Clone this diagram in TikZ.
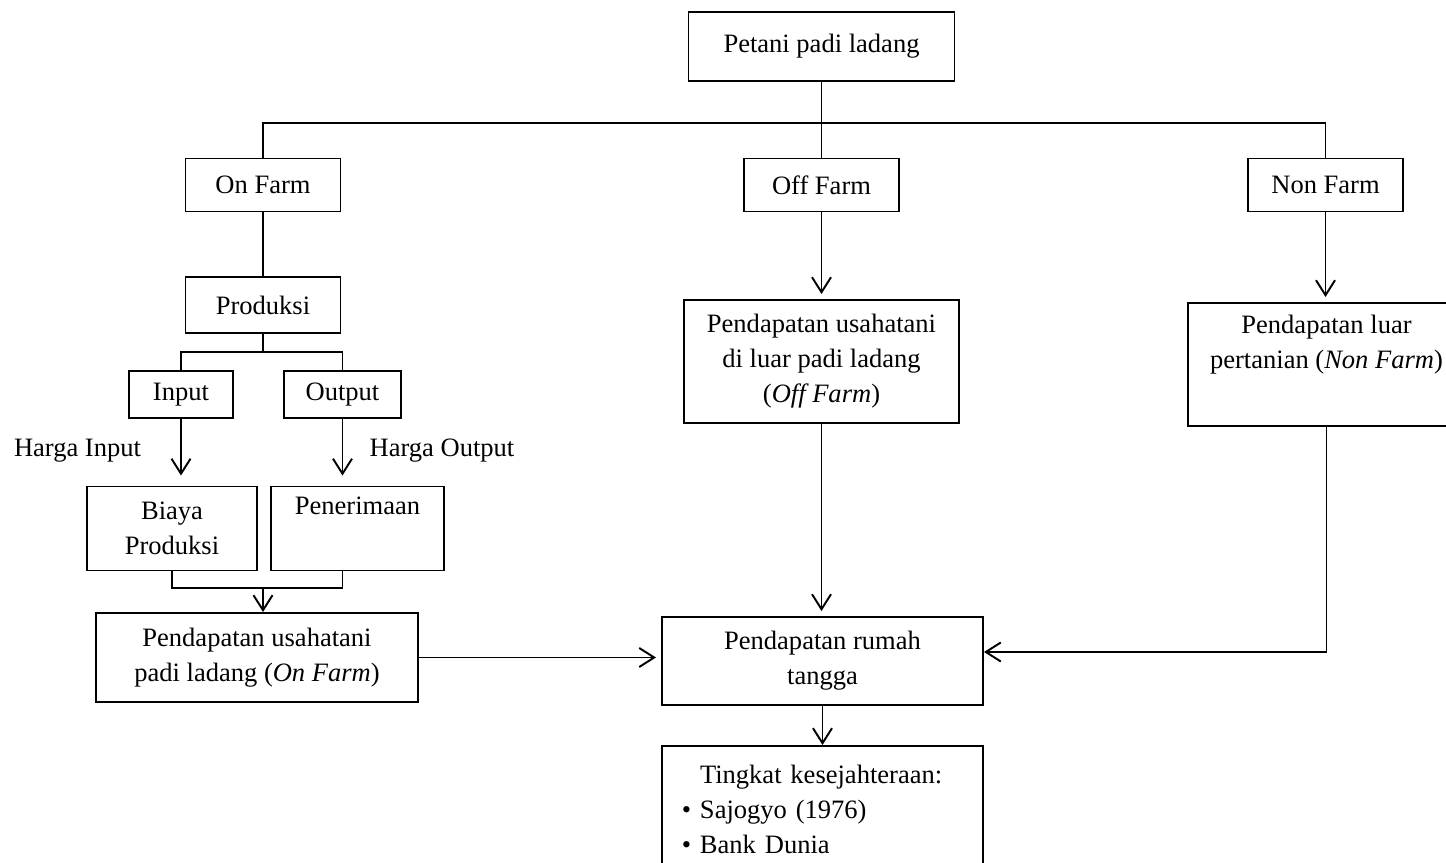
\documentclass[tikz,border=0pt]{standalone}
\usepackage{fontspec}
\setmainfont{Liberation Serif}
\usetikzlibrary{arrows.meta}

\begin{document}
\begin{tikzpicture}[
    box/.style={rectangle, draw, line width=1.1pt, align=center, inner sep=0pt, font=\fontsize{15.1}{19.9}\selectfont},
    label/.style={font=\fontsize{15.1}{19.9}\selectfont, inner sep=0pt, anchor=base},
    line/.style={line width=1.1pt},
    arrow/.style={line width=1.1pt, -{Straight Barb[length=3mm, width=3.8mm]}, shorten >=0.1cm}
  ]
    \useasboundingbox (0,0) rectangle (28.92,17.26);
    \clip (0,0) rectangle (28.92,17.26);

    \node[box, minimum width=5.32cm, minimum height=1.38cm] (petani) at (16.43,16.33) {Petani padi ladang};

    \node[box, minimum width=3.1cm, minimum height=1.06cm] (onFarm) at (5.26,13.56) {On Farm};
    \node[box, minimum width=3.1cm, minimum height=1.06cm] (offFarm) at (16.43,13.56) {Off Farm};
    \node[box, minimum width=3.1cm, minimum height=1.06cm] (nonFarm) at (26.51,13.56) {Non Farm};

    \node[box, minimum width=3.1cm, minimum height=1.12cm] (produksi) at (5.26,11.16) {Produksi};
    \node[box, minimum width=2.08cm, minimum height=0.94cm] (input) at (3.62,9.37) {Input};
    \node[box, minimum width=2.34cm, minimum height=0.94cm] (output) at (6.85,9.37) {Output};

    \node[label] (hargaIn) at (1.55,8.12) {Harga Input};
    \node[label] (hargaOut) at (8.84,8.12) {Harga Output};

    \node[box, minimum width=3.4cm, minimum height=1.68cm] (biaya) at (3.44,6.69) {Biaya\\Produksi};
    \node[box, minimum width=3.46cm, minimum height=1.68cm] (terima) at (7.15,6.69) {Penerimaan\\\strut};

    \node[box, minimum width=6.44cm, minimum height=1.78cm] (puOn) at (5.14,4.11)
      {Pendapatan usahatani\\padi ladang (\textit{On Farm})};
    \node[box, minimum width=5.5cm, minimum height=2.46cm] (puOff) at (16.43,10.03)
      {Pendapatan usahatani\\di luar padi ladang\\(\textit{Off Farm})};
    \node[box, minimum width=5.54cm, minimum height=2.46cm] (puNon) at (26.53,9.97)
      {Pendapatan luar\\pertanian (\textit{Non Farm})\\\strut};

    \node[box, minimum width=6.42cm, minimum height=1.76cm] (rumah) at (16.45,4.04)
      {Pendapatan rumah\\tangga};
    \node[box, anchor=north, align=left, text width=4.9cm, inner xsep=0.76cm, inner ysep=0.38cm] (tingkat) at (16.45,2.36)
      {Tingkat kesejahteraan:\\\leavevmode\llap{\textbullet\ }Sajogyo (1976)\\\leavevmode\llap{\textbullet\ }Bank Dunia};

    \coordinate (split) at (16.43,14.80);
    \coordinate (pJoin) at (5.26,10.22);
    \coordinate (bJoin) at (5.26,5.50);

    \draw[line] (petani) -- (offFarm);
    \draw[line] (onFarm.north) |- (split) -| (nonFarm.north);
    \draw[line] (onFarm) -- (produksi);
    \draw[line] (produksi.south) -- (pJoin);
    \draw[line] (input.north) |- (pJoin) -| (output.north);

    \draw[arrow, shorten >=0.2cm] (input.south) -- (input.south |- biaya.north);
    \draw[arrow, shorten >=0.2cm] (output.south) -- (output.south |- terima.north);

    \draw[line] (biaya.south) |- (bJoin) -| (output.south |- terima.south);
    \draw[arrow, shorten >=0pt] (bJoin) -- (bJoin |- puOn.north);

    \draw[arrow] (offFarm) -- (puOff);
    \draw[arrow] (nonFarm.south) -- (nonFarm.south |- puNon.north);
    \draw[arrow] (puOff.south) -- (puOff.south |- rumah.north);
    \draw[arrow] (puOn.east) -- (puOn.east -| rumah.west);
    \draw[arrow, shorten >=0pt] (puNon.south) |- ([yshift=0.18cm]rumah.east);
    \draw[arrow, shorten >=0pt] (rumah) -- (tingkat);
  \end{tikzpicture}
\end{document}
